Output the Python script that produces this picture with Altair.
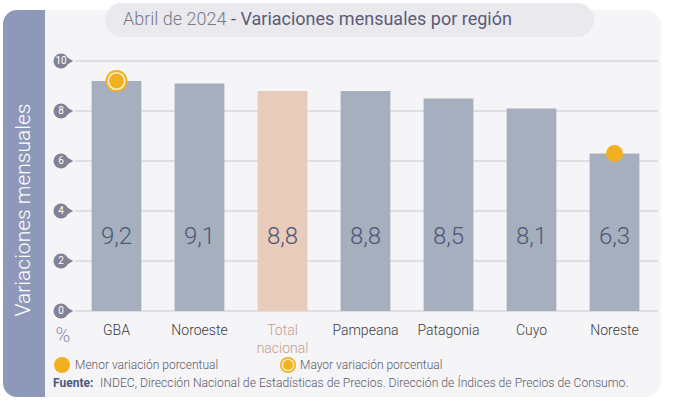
import altair as alt
import pandas as pd

regions = ["GBA", "Noroeste", "Total nacional", "Pampeana", "Patagonia", "Cuyo", "Noreste"]
values = [9.2, 9.1, 8.8, 8.8, 8.5, 8.1, 6.3]
value_labels = ["9,2", "9,1", "8,8", "8,8", "8,5", "8,1", "6,3"]
axis_labels = ["GBA", "Noroeste", "Total\nnacional", "Pampeana", "Patagonia", "Cuyo", "Noreste"]
y_ticks = [0, 2, 4, 6, 8, 10]
highest = "GBA"
lowest = "Noreste"

FONT = "Roboto"
ORANGE = "#f1b11f"
BAR = "#a6afbe"
TOTAL = "#e8cbbb"

df = pd.DataFrame({"region": regions, "value": values, "vlabel": value_labels, "xlabel": axis_labels})
df["kind"] = ["total" if r == "Total nacional" else "region" for r in regions]
ticks_df = pd.DataFrame({"t": y_ticks, "tl": [str(t) for t in y_ticks]})
hi_df = df[df["region"] == highest]
lo_df = df[df["region"] == lowest]

xs = alt.Scale(domain=regions, paddingInner=0.4, paddingOuter=0.2)
ys = alt.Scale(domain=[0, 10], nice=False)
X = alt.X("region:N", scale=xs, axis=None, sort=regions)
Y = alt.Y("value:Q", scale=ys, axis=None)
YT = alt.Y("t:Q", scale=ys, axis=None)
one = alt.Data(values=[{}])

def deco_rect(x, x2, y, y2, color, **kw):
    return alt.Chart(one).mark_rect(color=color, **kw).encode(
        x=alt.value(x), x2=alt.value(x2), y=alt.value(y), y2=alt.value(y2))

def deco_text(txt, x, y, **kw):
    return alt.Chart(one).mark_text(text=txt, font=FONT, **kw).encode(
        x=alt.value(x), y=alt.value(y))

def dot(x, y, size, color):
    return alt.Chart(one).mark_point(filled=True, opacity=1, color=color, size=size, shape="circle").encode(
        x=alt.value(x), y=alt.value(y))

panel = deco_rect(-30, 586, -51, 336, "#f5f5f8",
                  cornerRadiusTopRight=16, cornerRadiusBottomRight=16)
blue = deco_rect(-72, -30, -51, 336, "#8e99b9",
                 cornerRadiusTopLeft=14, cornerRadiusBottomLeft=14)
pill = deco_rect(30, 519, -58, -24, "#e9e9ee", cornerRadius=17)

t1 = deco_text("Abril de 2024", 48, -41, align="left", baseline="middle", fontSize=18,
               fontWeight=300, color="#7a7a86")
t2 = deco_text("- Variaciones mensuales por región", 156, -41, align="left", baseline="middle",
               fontSize=18, fontWeight=400, color="#5b5b78")

ytitle = deco_text("Variaciones  mensuales", -51, 149, align="center", baseline="middle",
                   fontSize=21, fontWeight=300, color="white", angle=270)
pct = deco_text("%", -12, 275, align="center", baseline="middle", fontSize=20,
                fontWeight=300, color="#8a8aa8")

grid = alt.Chart(ticks_df).mark_rule(color="#c9c9ce", strokeWidth=1).encode(
    y=YT, x=alt.value(0), x2=alt.value(583))

ypins = alt.Chart(ticks_df).mark_point(shape="circle", filled=True, opacity=1, color="#828296", size=225).encode(
    y=YT, x=alt.value(-14))
ytri = alt.Chart(ticks_df).mark_point(shape="triangle-right", filled=True, opacity=1, color="#828296", size=55).encode(
    y=YT, x=alt.value(-5))
ylabels = alt.Chart(ticks_df).mark_text(font=FONT, fontSize=10, color="white", baseline="middle").encode(
    y=YT, x=alt.value(-14), text="tl:N")

bars = alt.Chart(df).mark_bar().encode(
    x=X, y=Y,
    color=alt.condition(alt.datum.kind == "total", alt.value(TOTAL), alt.value(BAR)))

vtext = alt.Chart(df).mark_text(font=FONT, fontSize=24, fontWeight=300, color="#4f5676", baseline="middle").encode(
    x=X, y=alt.value(176), text="vlabel:N")

xtext = alt.Chart(df).mark_text(font=FONT, fontSize=14, fontWeight=300, baseline="middle", lineBreak="\n",
                                lineHeight=18).encode(
    x=X, y=alt.value(270), text="xlabel:N",
    color=alt.condition(alt.datum.kind == "total", alt.value("#c49c88"), alt.value("#3a3a40")))

def marker(d, size, color):
    return alt.Chart(d).mark_point(filled=True, opacity=1, color=color, size=size, shape="circle").encode(x=X, y=Y)

hi1 = marker(hi_df, 484, ORANGE)
hi2 = marker(hi_df, 330, "#fdf1d2")
hi3 = marker(hi_df, 220, ORANGE)
lo = marker(lo_df, 290, ORANGE)

leg1 = dot(-13, 304, 256, ORANGE)
leg1t = deco_text("Menor variación porcentual", 0, 304, align="left", baseline="middle", fontSize=12,
                  fontWeight=300, color="#5a5a66")
leg2a = dot(213, 304, 256, ORANGE)
leg2b = dot(213, 304, 160, "#fdf1d2")
leg2c = dot(213, 304, 100, ORANGE)
leg2t = deco_text("Mayor variación porcentual", 225, 304, align="left", baseline="middle", fontSize=12,
                  fontWeight=300, color="#5a5a66")

src1 = deco_text("Fuente:", -22, 322, align="left", baseline="middle", fontSize=12,
                 fontWeight="bold", color="#4b5680")
src2 = deco_text("INDEC, Dirección Nacional de Estadísticas de Precios. Dirección de Índices de Precios de Consumo.",
                 25, 322, align="left", baseline="middle", fontSize=12.2, fontWeight=300, color="#5a5a66")

chart = alt.layer(
    panel, blue, pill, t1, t2, ytitle, pct, grid, bars, ytri, ypins, ylabels, vtext, xtext,
    hi1, hi2, hi3, lo, leg1, leg1t, leg2a, leg2b, leg2c, leg2t, src1, src2
).properties(
    width=581, height=250,
    autosize=alt.AutoSizeParams(type="none"),
    padding={"left": 75, "top": 61, "right": 17, "bottom": 104},
    background="white",
).configure_view(stroke=None)

chart.save("out.html", embed_options={"renderer": "svg", "actions": False})
